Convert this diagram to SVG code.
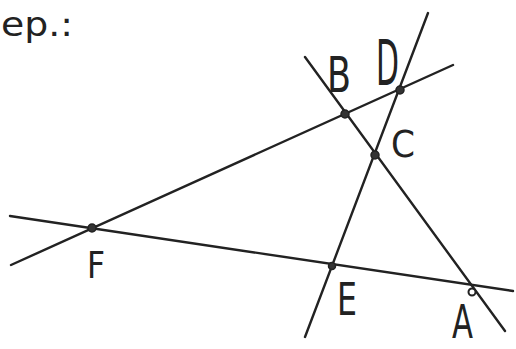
<svg xmlns="http://www.w3.org/2000/svg" width="516" height="349" viewBox="0 0 516 349">
<style>
.ln{stroke:#222;stroke-width:2.4;fill:none;stroke-linecap:round}
.pt{fill:#333;stroke:#222;stroke-width:1.5}
.op{fill:#fff;stroke:#222;stroke-width:2}
.lb{font-family:"DejaVu Sans","Liberation Sans",sans-serif;fill:#222;font-weight:400}
</style>
<rect width="516" height="349" fill="#fff"/>
<text x="1" y="36" class="lb" font-size="34" textLength="72" lengthAdjust="spacingAndGlyphs">ep.:</text>
<g id="connectors">
<line class="ln" x1="11" y1="265" x2="453" y2="65"/>
<line class="ln" x1="10" y1="216" x2="513" y2="291"/>
<line class="ln" x1="305" y1="57" x2="505" y2="331"/>
<line class="ln" x1="428" y1="13" x2="305" y2="337"/>
</g>
<g id="B"><circle class="pt" cx="345" cy="114" r="4"/><text class="lb" x="327" y="92" font-size="50" textLength="24" lengthAdjust="spacingAndGlyphs">B</text></g>
<g id="D"><circle class="pt" cx="400" cy="90" r="4"/><text class="lb" x="376" y="85" font-size="62" textLength="23" lengthAdjust="spacingAndGlyphs">D</text></g>
<g id="C"><circle class="pt" cx="375" cy="155" r="4"/><text class="lb" x="391" y="157" font-size="37" textLength="24" lengthAdjust="spacingAndGlyphs">C</text></g>
<g id="F"><circle class="pt" cx="92" cy="228" r="4"/><text class="lb" x="87" y="278" font-size="38" textLength="18" lengthAdjust="spacingAndGlyphs">F</text></g>
<g id="E"><circle class="pt" cx="332" cy="266" r="3.5"/><text class="lb" x="337" y="315" font-size="44" textLength="20" lengthAdjust="spacingAndGlyphs">E</text></g>
<g id="A"><circle class="op" cx="472" cy="292" r="3.5"/><text class="lb" x="452" y="338" font-size="46" textLength="21" lengthAdjust="spacingAndGlyphs">A</text></g>
</svg>
